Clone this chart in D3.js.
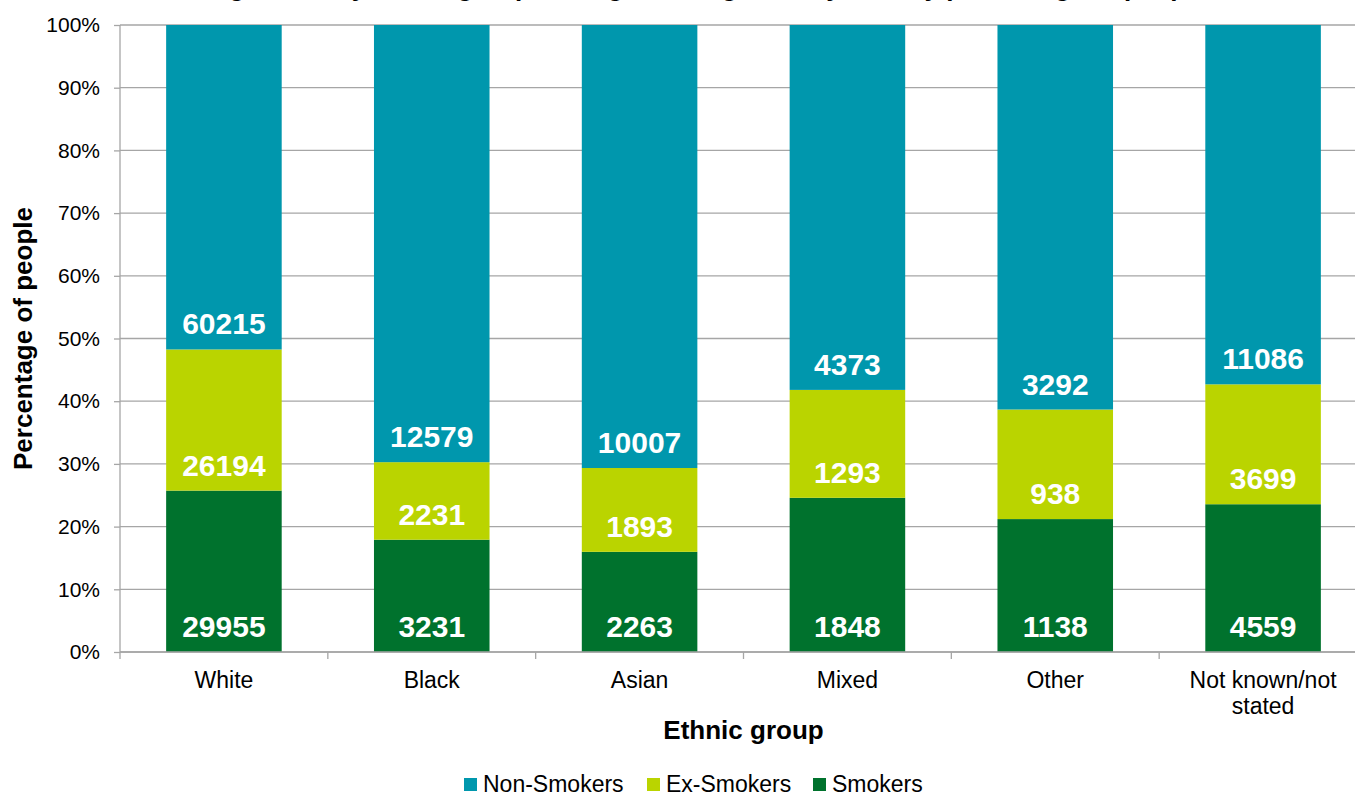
<!DOCTYPE html>
<html>
<head>
<meta charset="utf-8">
<script src="https://cdn.jsdelivr.net/npm/d3@7"></script>
<style>
  html, body { margin: 0; padding: 0; background: #fff; overflow: hidden; }
  svg { display: block; font-family: "Liberation Sans", Arial, sans-serif; }
</style>
</head>
<body>
<svg id="chart" width="1355" height="796"></svg>
<script>
// ---- Data ----
const categories = ["White", "Black", "Asian", "Mixed", "Other", "Not known/not stated"];
const smokers    = [29955, 3231, 2263, 1848, 1138, 4559];
const exSmokers  = [26194, 2231, 1893, 1293, 938, 3699];
const nonSmokers = [60215, 12579, 10007, 4373, 3292, 11086];
const seriesNames = ["Smokers", "Ex-Smokers", "Non-Smokers"];
const seriesColors = ["#00722D", "#BAD400", "#0097AD"];
const yTicks = [0, 0.1, 0.2, 0.3, 0.4, 0.5, 0.6, 0.7, 0.8, 0.9, 1.0];
const legendOrder = ["Non-Smokers", "Ex-Smokers", "Smokers"];
const titleText = "Smoking status by ethnic group among those aged 16+ years, by percentage of people";

const rows = categories.map((c, i) => ({
  cat: c,
  "Smokers": smokers[i],
  "Ex-Smokers": exSmokers[i],
  "Non-Smokers": nonSmokers[i]
}));

const svg = d3.select("#chart");
const pLeft = 120, pRight = 1367, pTop = 25, pBottom = 652;

const x = d3.scaleBand().domain(categories).range([pLeft, pRight]).paddingInner(0.444).paddingOuter(0.222);
const band = d3.scaleBand().domain(categories).range([pLeft, pRight]);
const y = d3.scaleLinear().domain([0, 1]).range([pBottom, pTop]);
const color = d3.scaleOrdinal().domain(seriesNames).range(seriesColors);

const stack = d3.stack().keys(seriesNames).offset(d3.stackOffsetExpand);
const stacked = stack(rows);

// Title (mostly above the visible area, as in the reference)
svg.append("text")
  .attr("x", 135).attr("y", -4)
  .attr("font-size", 26).attr("font-weight", "bold").attr("fill", "#000")
  .text(titleText);

// Gridlines
svg.append("g").selectAll("line").data(yTicks).join("line")
  .attr("x1", pLeft).attr("x2", pRight)
  .attr("y1", d => y(d)).attr("y2", d => y(d))
  .attr("stroke", "#A6A6A6").attr("stroke-width", 1.3);

// Y axis
const yAxis = d3.axisLeft(y).tickValues(yTicks).tickFormat(d3.format(".0%")).tickSize(6).tickPadding(14);
const gy = svg.append("g").attr("transform", `translate(${pLeft},0)`).call(yAxis);
gy.select(".domain").attr("stroke", "#A6A6A6").attr("stroke-width", 1.3).attr("d", `M0,${pTop}V${pBottom}`);
gy.selectAll(".tick line").attr("stroke", "#A6A6A6").attr("stroke-width", 1.3);
gy.selectAll(".tick text").attr("font-size", 21).attr("fill", "#000")
  .attr("font-family", "Liberation Sans, Arial, sans-serif");

// Bars
const layer = svg.append("g").selectAll("g").data(stacked).join("g")
  .attr("fill", d => color(d.key));
layer.selectAll("rect").data(d => d).join("rect")
  .attr("x", d => x(d.data.cat))
  .attr("width", x.bandwidth())
  .attr("y", d => y(d[1]))
  .attr("height", d => y(d[0]) - y(d[1]));

// X axis
const xAxisG = svg.append("g").attr("transform", `translate(0,${pBottom})`);
xAxisG.append("line").attr("x1", pLeft).attr("x2", pRight).attr("y1", 0).attr("y2", 0)
  .attr("stroke", "#A6A6A6").attr("stroke-width", 1.3);
const boundaries = categories.map(c => band(c)).concat([pRight]);
xAxisG.selectAll("line.tk").data(boundaries).join("line").attr("class", "tk")
  .attr("x1", d => d).attr("x2", d => d).attr("y1", 0).attr("y2", 7)
  .attr("stroke", "#A6A6A6").attr("stroke-width", 1.3);

// X tick labels (wrapped)
const xLabelLines = { "Not known/not stated": ["Not known/not", "stated"] };
const xl = svg.append("g").selectAll("text").data(categories).join("text")
  .attr("x", d => band(d) + band.bandwidth() / 2)
  .attr("y", 688)
  .attr("text-anchor", "middle").attr("font-size", 23).attr("fill", "#000");
xl.each(function(d) {
  const lines = xLabelLines[d] || [d];
  d3.select(this).selectAll("tspan").data(lines).join("tspan")
    .attr("x", band(d) + band.bandwidth() / 2)
    .attr("dy", (l, i) => i === 0 ? 0 : 26)
    .text(l => l);
});

// Data labels (inside base)
const labelG = svg.append("g");
stacked.forEach(s => {
  labelG.selectAll(null).data(s).join("text")
    .attr("x", d => x(d.data.cat) + x.bandwidth() / 2)
    .attr("y", d => y(d[0]) - 15)
    .attr("text-anchor", "middle")
    .attr("font-size", 30).attr("font-weight", "bold").attr("fill", "#fff")
    .text(d => d.data[s.key]);
});

// Axis titles
svg.append("text").attr("x", (pLeft + pRight) / 2).attr("y", 739)
  .attr("text-anchor", "middle").attr("font-size", 26).attr("font-weight", "bold")
  .text("Ethnic group");
svg.append("text")
  .attr("transform", `translate(32,${(pTop + pBottom) / 2}) rotate(-90)`)
  .attr("text-anchor", "middle").attr("font-size", 26).attr("font-weight", "bold")
  .text("Percentage of people");

// Legend
const legendX = [464, 647, 813];
const lg = svg.append("g").selectAll("g").data(legendOrder).join("g")
  .attr("transform", (d, i) => `translate(${legendX[i]},778)`);
lg.append("rect").attr("width", 13).attr("height", 13).attr("fill", d => color(d));
lg.append("text").attr("x", 19).attr("y", 14).attr("font-size", 23).attr("fill", "#000").text(d => d);
</script>
</body>
</html>
